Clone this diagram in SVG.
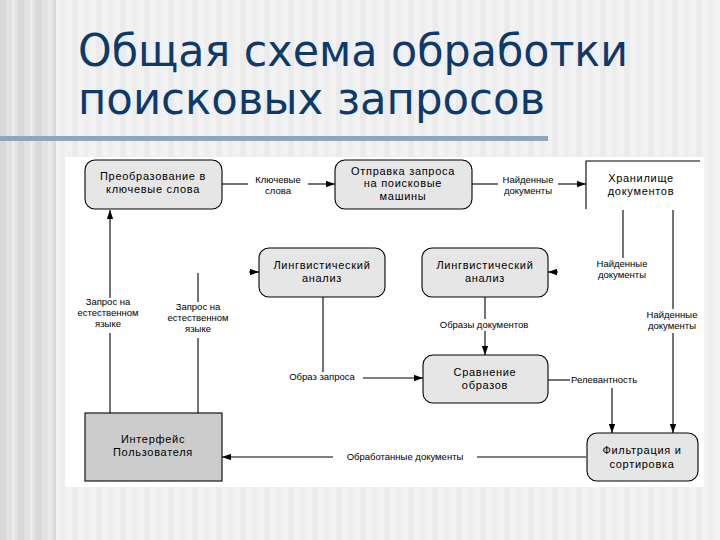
<svg xmlns="http://www.w3.org/2000/svg" width="720" height="540" viewBox="0 0 720 540">
<defs>
<pattern id="stripes" x="0" y="0" width="24" height="540" patternUnits="userSpaceOnUse">
<rect x="0" y="0" width="24" height="540" fill="#f2f2f2"/>
<rect x="0" y="0" width="6" height="540" fill="#ebebeb"/>
<rect x="12" y="0" width="5" height="540" fill="#eeeeee"/>
</pattern>
<pattern id="stripesL" x="0" y="0" width="18" height="540" patternUnits="userSpaceOnUse">
<rect x="0" y="0" width="18" height="540" fill="#e2e2e2"/>
<rect x="0" y="0" width="6" height="540" fill="#d8d8d8"/>
<rect x="12" y="0" width="3" height="540" fill="#ebebeb"/>
</pattern>
<marker id="ah" viewBox="0 0 10 7" refX="10" refY="3.5" markerWidth="9" markerHeight="7" markerUnits="userSpaceOnUse" orient="auto">
<path d="M0,0 L10,3.5 L0,7 z" fill="#000"/>
</marker>
</defs>
<style>
.bx{fill:#e6e6e6;stroke:#000;stroke-width:1.1}
.ui{fill:#cccccc;stroke:#000;stroke-width:1.1}
.t{font-family:"Liberation Sans",Arial,sans-serif;font-size:11px;letter-spacing:0.7px;text-anchor:middle;fill:#000}
.l{font-family:"Liberation Sans",Arial,sans-serif;font-size:9.5px;text-anchor:middle;fill:#000}
.c{fill:none;stroke:#000;stroke-width:1.1}
.title{font-family:"DejaVu Sans",Verdana,sans-serif;font-size:44px;fill:#0d3a6a}
</style>
<rect x="0" y="0" width="720" height="540" fill="url(#stripes)"/>
<rect x="0" y="0" width="56" height="540" fill="url(#stripesL)"/>
<text class="title" x="78" y="66" textLength="550" lengthAdjust="spacingAndGlyphs">Общая схема обработки</text>
<text class="title" x="78" y="114" textLength="467" lengthAdjust="spacingAndGlyphs">поисковых запросов</text>
<rect x="0" y="136" width="548" height="5" fill="#8fa6be"/>
<rect x="65" y="157" width="639" height="330" fill="#ffffff"/>

<g id="connectors">
<line class="c" x1="222" y1="184" x2="248" y2="184"/>
<line class="c" x1="308" y1="184" x2="335" y2="184" marker-end="url(#ah)"/>
<line class="c" x1="472" y1="184" x2="498" y2="184"/>
<line class="c" x1="558" y1="184" x2="586" y2="184" marker-end="url(#ah)"/>
<line class="c" x1="110" y1="413" x2="110" y2="333"/>
<line class="c" x1="110" y1="298" x2="110" y2="210" marker-end="url(#ah)"/>
<line class="c" x1="198" y1="413" x2="198" y2="338"/>
<line class="c" x1="198" y1="302" x2="198" y2="273"/>
<line class="c" x1="249" y1="272" x2="259" y2="272" marker-end="url(#ah)"/>
<line class="c" x1="623" y1="210" x2="623" y2="258"/>
<line class="c" x1="558" y1="272" x2="548" y2="272" marker-end="url(#ah)"/>
<line class="c" x1="673" y1="210" x2="673" y2="309"/>
<line class="c" x1="673" y1="333" x2="673" y2="433" marker-end="url(#ah)"/>
<line class="c" x1="485" y1="297" x2="485" y2="319"/>
<line class="c" x1="485" y1="331" x2="485" y2="355" marker-end="url(#ah)"/>
<line class="c" x1="323" y1="297" x2="323" y2="372"/>
<line class="c" x1="363" y1="378" x2="423" y2="378" marker-end="url(#ah)"/>
<line class="c" x1="548" y1="380" x2="570" y2="380"/>
<line class="c" x1="612" y1="388" x2="612" y2="433" marker-end="url(#ah)"/>
<line class="c" x1="586" y1="457" x2="477" y2="457"/>
<line class="c" x1="333" y1="457" x2="222" y2="457" marker-end="url(#ah)"/>
<text class="l" x="278" y="183">Ключевые</text>
<text class="l" x="278" y="194">слова</text>
<text class="l" x="528" y="183">Найденные</text>
<text class="l" x="528" y="194">документы</text>
<text class="l" x="108" y="305">Запрос на</text>
<text class="l" x="108" y="316">естественном</text>
<text class="l" x="108" y="327">языке</text>
<text class="l" x="198" y="310">Запрос на</text>
<text class="l" x="198" y="321">естественном</text>
<text class="l" x="198" y="332">языке</text>
<text class="l" x="622" y="267">Найденные</text>
<text class="l" x="622" y="278">документы</text>
<text class="l" x="672" y="318">Найденные</text>
<text class="l" x="672" y="329">документы</text>
<text class="l" x="484" y="328">Образы документов</text>
<text class="l" x="322" y="380">Образ запроса</text>
<text class="l" x="571" y="383" style="text-anchor:start">Релевантность</text>
<text class="l" x="405" y="460">Обработанные документы</text>
</g>

<g id="n1">
<rect class="bx" x="85" y="160" width="137" height="49" rx="10"/>
<text class="t" x="153" y="180">Преобразование в</text>
<text class="t" x="153" y="193">ключевые слова</text>
</g>
<g id="n2">
<rect class="bx" x="335" y="160" width="137" height="49" rx="10"/>
<text class="t" x="403" y="175">Отправка запроса</text>
<text class="t" x="403" y="187">на поисковые</text>
<text class="t" x="403" y="200">машины</text>
</g>
<g id="n3">
<path class="c" d="M586,209 L586,161 L700,161"/>
<text class="t" x="641" y="182">Хранилище</text>
<text class="t" x="641" y="195">документов</text>
</g>
<g id="n4">
<rect class="bx" x="259" y="248" width="126" height="49" rx="10"/>
<text class="t" x="322" y="269">Лингвистический</text>
<text class="t" x="322" y="282">анализ</text>
</g>
<g id="n5">
<rect class="bx" x="422" y="248" width="126" height="49" rx="10"/>
<text class="t" x="485" y="269">Лингвистический</text>
<text class="t" x="485" y="282">анализ</text>
</g>
<g id="n6">
<rect class="bx" x="423" y="355" width="125" height="48" rx="10"/>
<text class="t" x="485" y="376">Сравнение</text>
<text class="t" x="485" y="389">образов</text>
</g>
<g id="n7">
<rect class="ui" x="85" y="413" width="137" height="68"/>
<text class="t" x="153" y="443">Интерфейс</text>
<text class="t" x="153" y="456">Пользователя</text>
</g>
<g id="n8">
<rect class="bx" x="587" y="433" width="111" height="48" rx="10"/>
<text class="t" x="642" y="454">Фильтрация и</text>
<text class="t" x="642" y="468">сортировка</text>
</g>
</svg>
